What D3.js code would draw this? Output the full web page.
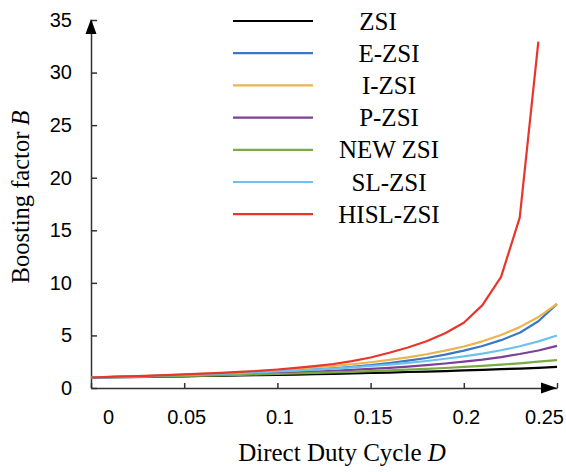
<!DOCTYPE html>
<html>
<head>
<meta charset="utf-8">
<script src="https://cdnjs.cloudflare.com/ajax/libs/d3/7.8.5/d3.min.js"></script>
<style>
  body { margin: 0; background: #fff; }
  .tick text { font-family: "Liberation Sans", Arial, sans-serif; font-size: 20px; fill: #000; }
  .axis path, .axis line { stroke: #333; stroke-width: 1.5; }
  .title, .legend text { font-family: "Liberation Serif", "Times New Roman", serif; fill: #000; }
</style>
</head>
<body>
<div id="chart"></div>
<script>
// duty cycle samples
var dutyCycle = [0, 0.01, 0.02, 0.03, 0.04, 0.05, 0.06, 0.07, 0.08, 0.09, 0.10, 0.11, 0.12,
  0.13, 0.14, 0.15, 0.16, 0.17, 0.18, 0.19, 0.20, 0.21, 0.22, 0.23, 0.24, 0.25];

var seriesNames = ["ZSI", "E-ZSI", "I-ZSI", "P-ZSI", "NEW ZSI", "SL-ZSI", "HISL-ZSI"];
var seriesColors = ["#000000", "#3a78c6", "#e9b54c", "#7b3f98", "#79ab45", "#6ec1ec", "#e8362b"];

var zsi = [1.00, 1.02, 1.04, 1.06, 1.09, 1.11, 1.14, 1.16, 1.19, 1.22, 1.25, 1.28, 1.32,
  1.35, 1.39, 1.43, 1.47, 1.52, 1.56, 1.61, 1.67, 1.72, 1.79, 1.85, 1.92, 2.00];
var eZsi = [1.00, 1.04, 1.09, 1.13, 1.18, 1.23, 1.29, 1.35, 1.42, 1.50, 1.58, 1.67, 1.77,
  1.88, 2.02, 2.18, 2.38, 2.60, 2.85, 3.17, 3.55, 4.00, 4.55, 5.25, 6.35, 8.00];
var iZsi = [1.00, 1.05, 1.10, 1.15, 1.21, 1.28, 1.35, 1.42, 1.51, 1.60, 1.71, 1.82, 1.95,
  2.10, 2.26, 2.45, 2.67, 2.92, 3.21, 3.55, 3.95, 4.44, 5.04, 5.79, 6.75, 8.00];
var pZsi = [1.00, 1.03, 1.06, 1.10, 1.14, 1.18, 1.22, 1.27, 1.32, 1.37, 1.43, 1.49, 1.56,
  1.64, 1.72, 1.82, 1.92, 2.04, 2.17, 2.33, 2.50, 2.70, 2.94, 3.23, 3.57, 4.00];
var newZsi = [1.00, 1.03, 1.05, 1.08, 1.11, 1.14, 1.18, 1.21, 1.25, 1.29, 1.33, 1.38, 1.43,
  1.48, 1.54, 1.60, 1.67, 1.74, 1.82, 1.90, 2.00, 2.11, 2.22, 2.35, 2.50, 2.66];
var slZsi = [1.00, 1.04, 1.09, 1.13, 1.19, 1.24, 1.30, 1.36, 1.42, 1.49, 1.57, 1.65, 1.75,
  1.85, 1.96, 2.09, 2.23, 2.39, 2.57, 2.78, 3.00, 3.27, 3.59, 3.97, 4.43, 5.00];
var hislZsi = [1.00, 1.05, 1.10, 1.16, 1.22, 1.29, 1.36, 1.44, 1.53, 1.63, 1.76, 1.91, 2.08,
  2.28, 2.55, 2.90, 3.35, 3.85, 4.45, 5.20, 6.20, 7.88, 10.57, 16.20, 32.95];

var xTicks = [0, 0.05, 0.1, 0.15, 0.2, 0.25];
var yTicks = [0, 5, 10, 15, 20, 25, 30, 35];

var allSeries = [zsi, eZsi, iZsi, pZsi, newZsi, slZsi, hislZsi];

var W = 566, H = 472;
var margin = { top: 20, right: 9, bottom: 84, left: 91 };
var width = W - margin.left - margin.right,
    height = H - margin.top - margin.bottom;

var svg = d3.select("#chart").append("svg")
  .attr("width", W)
  .attr("height", H);

var g = svg.append("g")
  .attr("transform", "translate(" + margin.left + "," + margin.top + ")");

var x = d3.scaleLinear().domain([0, 0.25]).range([0, width]);
var y = d3.scaleLinear().domain([0, 35]).range([height, 0]);

// axes
var xAxis = d3.axisBottom(x)
  .tickValues(xTicks)
  .tickSizeInner(-5)
  .tickSizeOuter(0)
  .tickFormat(function(d) { return d3.format("")(+d.toFixed(2)); });

var yAxis = d3.axisLeft(y)
  .tickValues(yTicks)
  .tickSizeInner(-6)
  .tickSizeOuter(0);

var gx = g.append("g")
  .attr("class", "x-axis axis")
  .attr("transform", "translate(0," + height + ")")
  .call(xAxis);

gx.selectAll(".tick text")
  .attr("y", 22)
  .attr("dx", function(d, i) {
    if (i === 0) return 17;
    if (i === xTicks.length - 1) return -13;
    return 2;
  });

var gy = g.append("g")
  .attr("class", "y-axis axis")
  .call(yAxis);

gy.selectAll(".tick text").attr("x", -19);

// arrow heads
g.append("path")
  .attr("d", "M0," + (y(35) - 1) + "L-5.5," + (y(35) + 14) + "L5.5," + (y(35) + 14) + "Z")
  .attr("fill", "#000");

g.append("path")
  .attr("d", "M" + x(0.25) + "," + height + "L" + (x(0.25) - 16) + "," + (height - 5.5) +
    "L" + (x(0.25) - 16) + "," + (height + 5.5) + "Z")
  .attr("fill", "#000");

// curves
var line = d3.line()
  .x(function(d) { return x(d[0]); })
  .y(function(d) { return y(d[1]); });

allSeries.forEach(function(vals, i) {
  var pts = vals.map(function(v, j) { return [dutyCycle[j], v]; });
  g.append("path")
    .datum(pts)
    .attr("fill", "none")
    .attr("stroke", seriesColors[i])
    .attr("stroke-width", 2.2)
    .attr("stroke-linejoin", "round")
    .attr("d", line);
});

// legend
var legend = svg.append("g").attr("class", "legend");
var rows = legend.selectAll("g")
  .data(seriesNames)
  .enter().append("g")
  .attr("transform", function(d, i) { return "translate(0," + (21 + i * 32.2) + ")"; });

rows.append("line")
  .attr("x1", 233).attr("x2", 313)
  .attr("y1", 0).attr("y2", 0)
  .attr("stroke", function(d, i) { return seriesColors[i]; })
  .attr("stroke-width", 2.2);

rows.append("text")
  .attr("x", function(d, i) { return i === 0 ? 378 : 389; })
  .attr("y", 8.5)
  .attr("text-anchor", "middle")
  .style("font-size", "25px")
  .text(function(d) { return d; });

// axis titles
svg.append("text")
  .attr("class", "title")
  .attr("x", 342)
  .attr("y", 461)
  .attr("text-anchor", "middle")
  .style("font-size", "25px")
  .html("Direct Duty Cycle <tspan font-style='italic'>D</tspan>");

svg.append("text")
  .attr("class", "title")
  .attr("transform", "translate(29,197) rotate(-90)")
  .attr("text-anchor", "middle")
  .style("font-size", "24.5px")
  .html("Boosting factor <tspan font-style='italic'>B</tspan>");
</script>
</body>
</html>
